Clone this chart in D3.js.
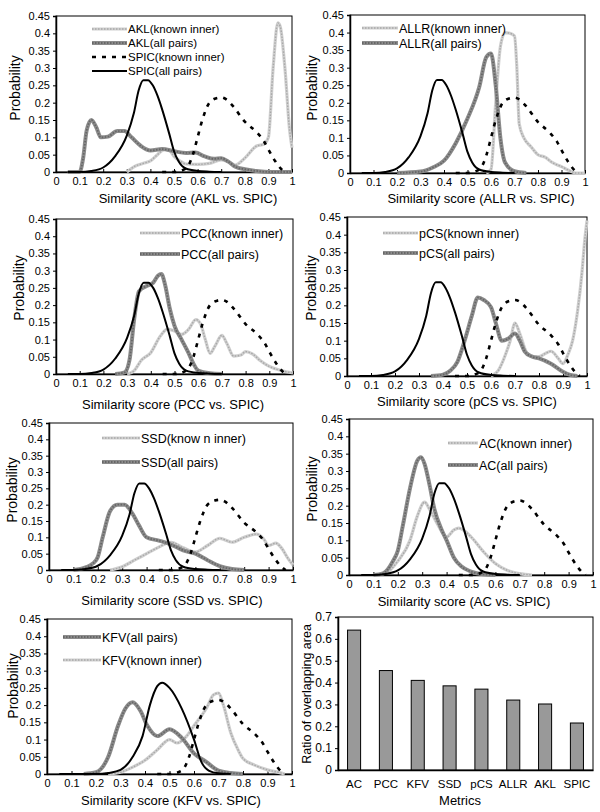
<!DOCTYPE html>
<html><head><meta charset="utf-8">
<script src="https://cdn.jsdelivr.net/npm/d3@7"></script>
<style>
body{margin:0;background:#fff;}
svg{display:block;font-family:"Liberation Sans",Arial,sans-serif;}
</style></head>
<body>
<svg id="c" width="600" height="812"></svg>
<script>
// ---------- DATA ----------
const xTicks = [0,0.1,0.2,0.3,0.4,0.5,0.6,0.7,0.8,0.9,1];
const yTicks = [0,0.05,0.1,0.15,0.2,0.25,0.3,0.35,0.4,0.45];
const xTickLabels = ["0","0.1","0.2","0.3","0.4","0.5","0.6","0.7","0.8","0.9","1"];
const yTickLabels = ["0","0.05","0.1","0.15","0.2","0.25","0.3","0.35","0.4","0.45"];

const SPIC_all = [[0.05,0],[0.1,0],[0.15,0.003],[0.2,0.013],[0.25,0.045],[0.3,0.105],[0.33,0.17],[0.35,0.235],[0.37,0.265],[0.39,0.265],[0.41,0.25],[0.43,0.22],[0.45,0.18],[0.48,0.11],[0.5,0.06],[0.52,0.03],[0.55,0.01],[0.6,0.003],[0.65,0.001],[0.7,0]];
const SPIC_known = [[0.45,0],[0.5,0],[0.55,0.01],[0.58,0.05],[0.6,0.1],[0.62,0.15],[0.65,0.2],[0.68,0.213],[0.7,0.215],[0.72,0.21],[0.75,0.19],[0.8,0.145],[0.85,0.115],[0.88,0.09],[0.9,0.065],[0.93,0.03],[0.96,0.005],[0.97,0]];
const SPIC_all_kfv = [[0.05,0],[0.2,0],[0.25,0.003],[0.3,0.012],[0.35,0.05],[0.39,0.11],[0.42,0.2],[0.45,0.255],[0.47,0.265],[0.5,0.25],[0.55,0.19],[0.6,0.1],[0.63,0.035],[0.66,0.01],[0.7,0.002],[0.75,0]];

const AKL_known = [[0.3,0],[0.33,0.015],[0.37,0.025],[0.4,0.032],[0.43,0.05],[0.46,0.065],[0.48,0.063],[0.5,0.045],[0.53,0.03],[0.55,0.023],[0.6,0.022],[0.65,0.025],[0.7,0.035],[0.73,0.03],[0.76,0.02],[0.8,0.04],[0.85,0.075],[0.88,0.08],[0.9,0.1],[0.92,0.3],[0.94,0.43],[0.95,0.42],[0.97,0.3],[0.99,0.12],[1.0,0.07]];
const AKL_all = [[0.05,0],[0.1,0],[0.115,0.04],[0.13,0.12],[0.15,0.15],[0.17,0.13],[0.19,0.1],[0.22,0.102],[0.26,0.118],[0.29,0.118],[0.32,0.1],[0.36,0.075],[0.4,0.062],[0.45,0.066],[0.5,0.06],[0.55,0.055],[0.59,0.056],[0.63,0.045],[0.67,0.038],[0.7,0.04],[0.73,0.03],[0.76,0.015],[0.8,0.008],[0.85,0.003],[0.9,0],[1.0,0]];

const ALLR_known = [[0.58,0],[0.6,0.01],[0.62,0.2],[0.64,0.36],[0.66,0.4],[0.68,0.398],[0.7,0.39],[0.71,0.3],[0.72,0.14],[0.74,0.1],[0.77,0.075],[0.8,0.052],[0.83,0.045],[0.86,0.03],[0.9,0.018],[0.93,0.008],[0.96,0],[1.0,0]];
const ALLR_all = [[0.2,0],[0.3,0.004],[0.35,0.015],[0.4,0.035],[0.45,0.085],[0.5,0.155],[0.55,0.245],[0.58,0.33],[0.6,0.34],[0.62,0.25],[0.64,0.1],[0.66,0.03],[0.7,0.005],[0.75,0]];

const PCC_known = [[0.3,0],[0.33,0.01],[0.36,0.04],[0.4,0.062],[0.44,0.11],[0.47,0.13],[0.5,0.125],[0.53,0.115],[0.56,0.13],[0.59,0.158],[0.61,0.145],[0.63,0.1],[0.65,0.06],[0.67,0.08],[0.7,0.112],[0.72,0.09],[0.75,0.052],[0.78,0.055],[0.8,0.065],[0.83,0.058],[0.86,0.04],[0.9,0.022],[0.95,0.01],[1.0,0.003]];
const PCC_all = [[0.25,0],[0.29,0.005],[0.31,0.04],[0.33,0.16],[0.35,0.24],[0.38,0.255],[0.41,0.265],[0.43,0.285],[0.445,0.29],[0.46,0.26],[0.48,0.19],[0.5,0.14],[0.53,0.1],[0.56,0.06],[0.58,0.03],[0.6,0.01],[0.65,0.002],[0.7,0]];

const pCS_known = [[0.6,0],[0.63,0.015],[0.66,0.06],[0.68,0.1],[0.7,0.15],[0.72,0.12],[0.75,0.065],[0.78,0.055],[0.8,0.055],[0.83,0.065],[0.85,0.07],[0.88,0.05],[0.9,0.035],[0.92,0.06],[0.94,0.1],[0.96,0.18],[0.98,0.3],[0.99,0.38],[1.0,0.44]];
const pCS_all = [[0.35,0],[0.4,0.004],[0.43,0.015],[0.46,0.04],[0.49,0.1],[0.52,0.17],[0.545,0.222],[0.57,0.215],[0.6,0.195],[0.62,0.15],[0.645,0.1],[0.67,0.105],[0.7,0.12],[0.72,0.1],[0.74,0.07],[0.77,0.055],[0.8,0.05],[0.85,0.035],[0.9,0.012],[0.93,0.003],[0.96,0]];

const SSD_known = [[0.25,0],[0.3,0.01],[0.35,0.03],[0.4,0.05],[0.45,0.07],[0.5,0.085],[0.55,0.068],[0.6,0.055],[0.65,0.075],[0.7,0.097],[0.75,0.085],[0.8,0.1],[0.85,0.11],[0.88,0.095],[0.9,0.075],[0.93,0.082],[0.95,0.07],[0.98,0.035],[1.0,0.015]];
const SSD_all = [[0.1,0],[0.15,0.008],[0.18,0.02],[0.2,0.04],[0.22,0.1],[0.25,0.18],[0.28,0.2],[0.31,0.2],[0.34,0.175],[0.37,0.135],[0.4,0.1],[0.45,0.09],[0.5,0.078],[0.55,0.06],[0.6,0.05],[0.65,0.03],[0.7,0.012],[0.75,0.003],[0.8,0]];

const AC_known = [[0.1,0],[0.15,0.005],[0.2,0.04],[0.25,0.1],[0.28,0.17],[0.31,0.21],[0.33,0.19],[0.36,0.15],[0.4,0.11],[0.43,0.13],[0.45,0.135],[0.5,0.11],[0.55,0.068],[0.6,0.033],[0.65,0.013],[0.7,0.004],[0.75,0]];
const AC_all = [[0.1,0],[0.14,0.005],[0.18,0.04],[0.2,0.07],[0.22,0.14],[0.25,0.25],[0.28,0.33],[0.295,0.34],[0.31,0.32],[0.33,0.26],[0.35,0.19],[0.38,0.13],[0.4,0.1],[0.43,0.05],[0.46,0.025],[0.5,0.01],[0.55,0.002],[0.6,0]];

const KFV_all = [[0.15,0],[0.2,0.005],[0.25,0.05],[0.29,0.14],[0.32,0.19],[0.35,0.208],[0.38,0.185],[0.41,0.14],[0.45,0.11],[0.5,0.13],[0.55,0.105],[0.6,0.06],[0.65,0.035],[0.7,0.01],[0.75,0.003],[0.8,0]];
const KFV_known = [[0.25,0],[0.3,0.005],[0.35,0.02],[0.4,0.04],[0.45,0.07],[0.5,0.1],[0.53,0.09],[0.57,0.11],[0.6,0.14],[0.65,0.19],[0.68,0.23],[0.7,0.235],[0.72,0.2],[0.75,0.12],[0.78,0.07],[0.8,0.045],[0.85,0.025],[0.9,0.012],[0.95,0.004],[0.97,0]];

const barCategories = ["AC","PCC","KFV","SSD","pCS","ALLR","AKL","SPIC"];
const barValues = [0.64,0.455,0.41,0.385,0.37,0.32,0.302,0.215];
const barTicks = [0,0.1,0.2,0.3,0.4,0.5,0.6,0.7];

// ---------- DRAW ----------
const svg = d3.select("#c");
const FONT = '"Liberation Sans",Arial,sans-serif';

const styles = {
  known: [{stroke:"#d0d0d0",w:3.2,dash:null},{stroke:"#a8a8a8",w:1.4,dash:"1.5,1.5"}],
  all:   [{stroke:"#8c8c8c",w:4,dash:null},{stroke:"#666",w:1.8,dash:"1.5,1.5"}],
  spicKnown: [{stroke:"#000",w:2.6,dash:"4,6"}],
  spicAll: [{stroke:"#000",w:2,dash:null}]
};

function drawStyled(g, pathD, st){
  st.forEach(s=>{
    g.append("path").attr("d",pathD).attr("fill","none")
     .attr("stroke",s.stroke).attr("stroke-width",s.w)
     .attr("stroke-dasharray",s.dash).attr("stroke-linejoin","round");
  });
}

const panels = [
  {m:"AKL", box:[56,16,292,172], known:AKL_known, all:AKL_all, spicAll:SPIC_all, lf:11.5,
   legend:{x1:92,x2:127,items:[["known",29,"AKL(known inner)"],["all",43,"AKL(all pairs)"],["spicKnown",57,"SPIC(known inner)"],["spicAll",71,"SPIC(all pairs)"]]},
   ylab:[15,88], xlab:[188,203]},
  {m:"ALLR", box:[350,15,585,173], known:ALLR_known, all:ALLR_all, spicAll:SPIC_all, lf:12.5,
   legend:{x1:362,x2:398,items:[["known",28,"ALLR(known inner)"],["all",43,"ALLR(all pairs)"]]},
   ylab:[312,88], xlab:[481,203]},
  {m:"PCC", box:[56,219,293,374], known:PCC_known, all:PCC_all, spicAll:SPIC_all, lf:12.5,
   legend:{x1:140,x2:180,items:[["known",233,"PCC(known inner)"],["all",254,"PCC(all pairs)"]]},
   ylab:[19,288], xlab:[173,409]},
  {m:"pCS", box:[347,217,587,376], known:pCS_known, all:pCS_all, spicAll:SPIC_all, lf:12.5,
   legend:{x1:383,x2:418,items:[["known",233,"pCS(known inner)"],["all",253,"pCS(all pairs)"]]},
   ylab:[311,288], xlab:[467,406]},
  {m:"SSD", box:[49,423,293,570], known:SSD_known, all:SSD_all, spicAll:SPIC_all, lf:12.5,
   legend:{x1:102,x2:140,items:[["known",438,"SSD(know n inner)"],["all",462,"SSD(all pairs)"]]},
   ylab:[12,490], xlab:[172,605]},
  {m:"AC", box:[349,419,593,575], known:AC_known, all:AC_all, spicAll:SPIC_all, lf:12.5,
   legend:{x1:448,x2:478,items:[["known",443,"AC(known inner)"],["all",465,"AC(all pairs)"]]},
   ylab:[312,489], xlab:[464,606]},
  {m:"KFV", box:[47,619,292,774], known:KFV_known, all:KFV_all, spicAll:SPIC_all_kfv, lf:12.5,
   legend:{x1:63,x2:101,items:[["all",637,"KFV(all pairs)"],["known",660,"KFV(known inner)"]]},
   ylab:[13,686], xlab:[171,805]}
];

panels.forEach(p=>{
  const [L,T,R,B] = p.box;
  const x = d3.scaleLinear().domain([0,1]).range([L,R]);
  const y = d3.scaleLinear().domain([0,0.45]).range([B,T]);
  const g = svg.append("g");
  const line = d3.line().x(d=>x(d[0])).y(d=>y(d[1])).curve(d3.curveMonotoneX);

  // frame
  g.append("rect").attr("x",L).attr("y",T).attr("width",R-L).attr("height",B-T)
   .attr("fill","none").attr("stroke","#000").attr("stroke-width",1);

  // axes
  const yAx = d3.axisLeft(y).tickValues(yTicks).tickFormat((d,i)=>yTickLabels[i]).tickSize(3).tickPadding(3);
  const xAx = d3.axisBottom(x).tickValues(xTicks).tickFormat((d,i)=>xTickLabels[i]).tickSizeInner(-3).tickSizeOuter(0).tickPadding(5);
  const ya = g.append("g").attr("transform",`translate(${L},0)`).call(yAx);
  const xa = g.append("g").attr("transform",`translate(0,${B})`).call(xAx);
  [ya,xa].forEach(a=>{
    a.select(".domain").attr("stroke","#000").attr("stroke-width",1.5);
    a.selectAll("text").attr("font-size",11).attr("font-family",FONT).attr("fill","#000");
    a.selectAll("line").attr("stroke","#000");
  });

  // curves
  drawStyled(g, line(p.known), styles.known);
  drawStyled(g, line(p.all), styles.all);
  drawStyled(g, line(SPIC_known), styles.spicKnown);
  drawStyled(g, line(p.spicAll), styles.spicAll);

  // legend
  p.legend.items.forEach(([k,ly,txt])=>{
    drawStyled(g, `M${p.legend.x1},${ly}H${p.legend.x2}`, styles[k]);
    g.append("text").attr("x",p.legend.x2+1).attr("y",ly).attr("dy","0.36em")
     .attr("font-size",p.lf).attr("font-family",FONT).text(txt);
  });

  // labels
  g.append("text").attr("transform",`translate(${p.ylab[0]},${p.ylab[1]}) rotate(-90)`)
   .attr("text-anchor","middle").attr("dy","0.35em").attr("font-size",14).attr("font-family",FONT).text("Probability");
  g.append("text").attr("x",p.xlab[0]).attr("y",p.xlab[1]).attr("text-anchor","middle")
   .attr("font-size",13).attr("font-family",FONT).text(`Similarity score (${p.m} vs. SPIC)`);
});

// bar chart
(function(){
  const L=338,T=617,R=593,B=770;
  const x = d3.scaleBand().domain(barCategories).range([L,R]).paddingInner(0.59).paddingOuter(0.3);
  const y = d3.scaleLinear().domain([0,0.7]).range([B,T]);
  const g = svg.append("g");
  g.append("rect").attr("x",L).attr("y",T).attr("width",R-L).attr("height",B-T)
   .attr("fill","none").attr("stroke","#000").attr("stroke-width",1);
  g.selectAll("rect.bar").data(barValues).enter().append("rect").attr("class","bar")
   .attr("x",(d,i)=>x(barCategories[i])).attr("width",x.bandwidth())
   .attr("y",d=>y(d)).attr("height",d=>B-y(d))
   .attr("fill","#999").attr("stroke","#000").attr("stroke-width",1);
  const yAx = d3.axisLeft(y).tickValues(barTicks).tickFormat(d3.format("")).tickSize(3).tickPadding(3);
  const xAx = d3.axisBottom(x).tickSize(0).tickPadding(10);
  const ya = g.append("g").attr("transform",`translate(${L},0)`).call(yAx);
  const xa = g.append("g").attr("transform",`translate(0,${B})`).call(xAx);
  [ya,xa].forEach(a=>{
    a.select(".domain").attr("stroke","#000").attr("stroke-width",1.5);
    a.selectAll("text").attr("font-size",12).attr("font-family",FONT).attr("fill","#000");
    a.selectAll("line").attr("stroke","#000");
  });
  xa.selectAll("text").attr("font-size",11.5);
  g.append("text").attr("transform",`translate(307,694) rotate(-90)`).attr("text-anchor","middle")
   .attr("dy","0.35em").attr("font-size",12.5).attr("font-family",FONT).text("Ratio of overlapping area");
  g.append("text").attr("x",460).attr("y",805).attr("text-anchor","middle")
   .attr("font-size",13).attr("font-family",FONT).text("Metrics");
})();
</script>
</body></html>
